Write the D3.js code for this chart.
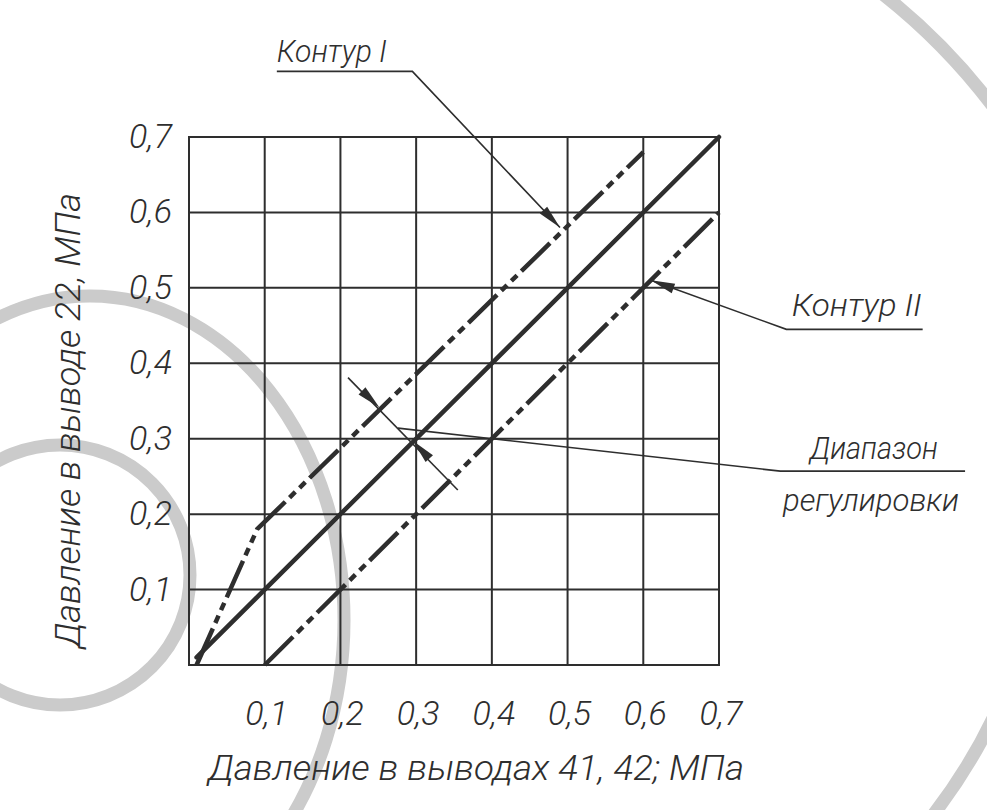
<!DOCTYPE html>
<html>
<head>
<meta charset="utf-8">
<script src="https://cdn.jsdelivr.net/npm/d3@7/dist/d3.min.js"></script>
<style>
  html, body { margin: 0; padding: 0; background: #fff; }
  svg { display: block; }
  text {
    font-family: Roboto, "Noto Sans", sans-serif;
    font-style: italic;
    font-weight: 300;
    fill: #2e2e2e;
  }
</style>
</head>
<body>
<div id="chart"></div>
<script>
// ---- data (МПа) ----
const gridValues = [0, 0.1, 0.2, 0.3, 0.4, 0.5, 0.6, 0.7];
const tickValues = [0.1, 0.2, 0.3, 0.4, 0.5, 0.6, 0.7];
const tickLabels = ["0,1", "0,2", "0,3", "0,4", "0,5", "0,6", "0,7"];

const mainLine = [[0.01, 0.01], [0.7, 0.7]];
const contour1 = [[0.01, 0.0], [0.09, 0.18], [0.6, 0.68]];
const contour2 = [[0.1, 0.0], [0.7, 0.6]];

// dimension "диапазон регулировки" (perpendicular to the lines)
const rangeDim = [[0.21, 0.381], [0.355, 0.232]];
const rangeTips = [[0.2515, 0.3415], [0.296, 0.297]];

// callouts: [shelf end, shelf start / bend, target on line]
const contour1Callout = [[0.116, 0.787], [0.295, 0.787], [0.49, 0.58]];
const contour2Callout = [[0.969, 0.445], [0.789, 0.445], [0.61, 0.51]];
const rangeCallout = [[1.025, 0.257], [0.781, 0.257], [0.276, 0.314]];

const labelText = ["Контур I", "Контур II", "Диапазон", "регулировки"];
const labelAt = [[0.116, 0.799], [0.796, 0.463], [0.820, 0.273], [0.7845, 0.204]];
const labelLen = [110, 130, 128, 176];

const xTitle = "Давление в выводах 41, 42; МПа";
const yTitle = "Давление в выводе 22, МПа";

// ---- layout ----
const W = 987, H = 810;
const PLOT = { LEFT: 189, RIGHT: 719, TOP: 137, BOTTOM: 665 };
const INK = "#2e2e2e";
const DASH = "40,6,8,6,8,6";

const svg = d3.select("#chart").append("svg")
  .attr("width", W).attr("height", H);

const x = d3.scaleLinear().domain([0, 0.7]).range([PLOT.LEFT, PLOT.RIGHT]);
const y = d3.scaleLinear().domain([0, 0.7]).range([PLOT.BOTTOM, PLOT.TOP]);

const line = d3.line().x(d => x(d[0])).y(d => y(d[1]));

/* ------- background watermark rings ------- */
const wm = svg.append("g").attr("fill", "none").attr("stroke", "#cbcbcb").attr("stroke-width", 13);
wm.append("ellipse").attr("cx", 90).attr("cy", 620).attr("rx", 254).attr("ry", 324);
wm.append("circle").attr("cx", 60).attr("cy", 575).attr("r", 130);

const ringArc = d3.arc();
svg.append("path")
  .attr("transform", "translate(500,480)")
  .attr("fill", "#cbcbcb")
  .attr("d", ringArc({ innerRadius: 612, outerRadius: 625, startAngle: 0.62, endAngle: 0.95 }));
svg.append("path")
  .attr("transform", "translate(500,480)")
  .attr("fill", "#cbcbcb")
  .attr("d", ringArc({ innerRadius: 541, outerRadius: 554, startAngle: 1.98, endAngle: 2.28 }));

/* ------- grid ------- */
const grid = svg.append("g").attr("stroke", INK).attr("stroke-width", 2);
grid.selectAll("line.v").data(gridValues).enter().append("line")
  .attr("class", "v")
  .attr("x1", d => x(d)).attr("x2", d => x(d))
  .attr("y1", y(0) + 1).attr("y2", y(0.7) - 1);
grid.selectAll("line.h").data(gridValues).enter().append("line")
  .attr("class", "h")
  .attr("y1", d => y(d)).attr("y2", d => y(d))
  .attr("x1", x(0) - 1).attr("x2", x(0.7) + 1);

/* ------- tick labels ------- */
svg.append("g").selectAll("text").data(tickValues).enter().append("text")
  .attr("x", d => x(d) + 2)
  .attr("y", 725)
  .attr("text-anchor", "middle")
  .style("font-size", "34px")
  .text((d, i) => tickLabels[i]);

svg.append("g").selectAll("text").data(tickValues).enter().append("text")
  .attr("x", 172)
  .attr("y", d => y(d) + 11)
  .attr("text-anchor", "end")
  .style("font-size", "34px")
  .text((d, i) => tickLabels[i]);

/* ------- axis titles ------- */
svg.append("text")
  .attr("x", 208).attr("y", 780)
  .attr("textLength", 536)
  .attr("lengthAdjust", "spacingAndGlyphs")
  .style("font-size", "35px")
  .text(xTitle);

svg.append("text")
  .attr("transform", "translate(80,648) rotate(-90)")
  .attr("textLength", 455)
  .attr("lengthAdjust", "spacingAndGlyphs")
  .style("font-size", "35px")
  .text(yTitle);

/* ------- curves ------- */
const curves = svg.append("g").attr("fill", "none").attr("stroke", INK)
  .attr("stroke-width", 4.5).attr("stroke-linejoin", "round");

curves.append("path").attr("d", line(mainLine)).attr("stroke-linecap", "round");
curves.append("path").attr("d", line(contour1)).attr("stroke-dasharray", DASH);
curves.append("path").attr("d", line(contour2)).attr("stroke-dasharray", DASH);

/* ------- callouts ------- */
function arrowHead(tip, from, len, half) {
  const tx = x(tip[0]), ty = y(tip[1]);
  const fx = x(from[0]), fy = y(from[1]);
  const dx = tx - fx, dy = ty - fy;
  const l = Math.sqrt(dx * dx + dy * dy);
  const ux = dx / l, uy = dy / l;
  const bx = tx - ux * len, by = ty - uy * len;
  const pts = [[tx, ty], [bx - uy * half, by + ux * half], [bx + uy * half, by - ux * half]];
  svg.append("path").attr("d", "M" + pts.join("L") + "Z").attr("fill", INK);
}

const thin = svg.append("g").attr("fill", "none").attr("stroke", INK).attr("stroke-width", 1.6);
[contour1Callout, contour2Callout, rangeCallout].forEach(c => {
  thin.append("path").attr("d", line(c));
});
arrowHead(contour1Callout[2], contour1Callout[1], 24, 5);
arrowHead(contour2Callout[2], contour2Callout[1], 24, 5);

thin.append("path").attr("d", line(rangeDim));
arrowHead(rangeTips[0], rangeDim[0], 24, 5);
arrowHead(rangeTips[1], rangeDim[1], 24, 5);

svg.append("g").selectAll("text").data(labelText).enter().append("text")
  .attr("x", (d, i) => x(labelAt[i][0]))
  .attr("y", (d, i) => y(labelAt[i][1]))
  .attr("textLength", (d, i) => labelLen[i])
  .attr("lengthAdjust", "spacingAndGlyphs")
  .style("font-size", "31px")
  .text(d => d);
</script>
</body>
</html>
